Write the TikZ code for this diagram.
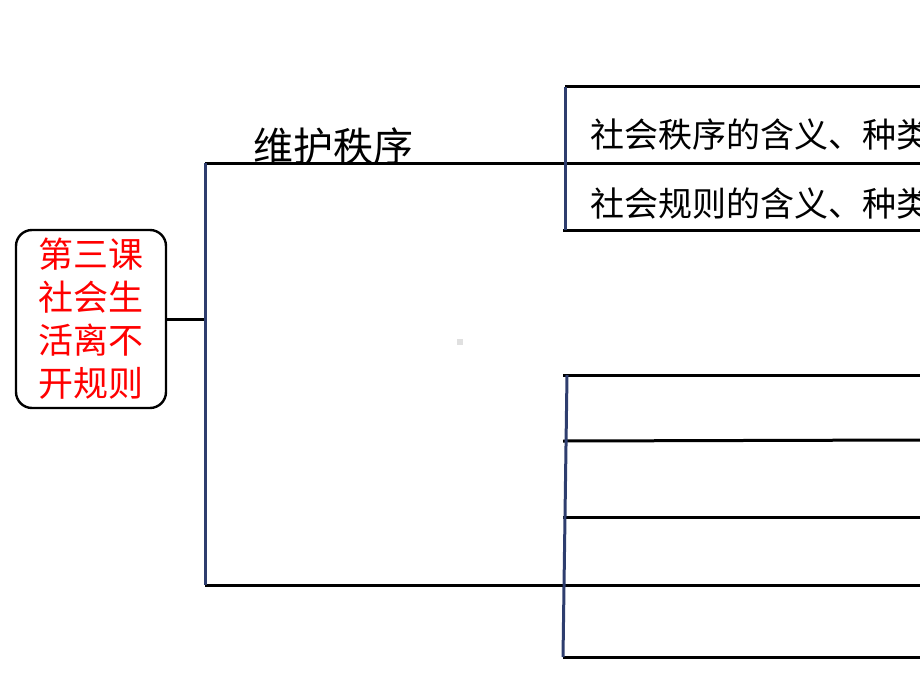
\documentclass[tikz,border=0pt]{standalone}
\usepackage{fontspec}
\newfontfamily\cjk{Noto Sans CJK SC}
\definecolor{navyline}{HTML}{2E3D6E}
\definecolor{dotgray}{HTML}{E0E0E0}
\begin{document}
\begin{tikzpicture}[x=1pt,y=-1pt,
  blk/.style={line width=3pt,black},
  nav/.style={line width=3pt,navyline},
  lesson/.style={draw,line width=2.4pt,rounded corners=16pt,minimum width=150pt,minimum height=178pt,
     inner sep=0pt,align=center,text=red,font=\cjk\fontsize{35}{43}\selectfont},
  branch/.style={font=\cjk\fontsize{40}{40}\selectfont,inner sep=0pt},
  item/.style={font=\cjk\fontsize{34}{36}\selectfont,inner sep=0pt,anchor=west}]
\useasboundingbox (0,0) rectangle (920,690);
\clip (0,0) rectangle (920,690);
% main box
\node[lesson] (L) at (91,319) {第三课\\社会生\\活离不\\开规则};
\coordinate (J) at (205,319);
\coordinate (T) at (205,163);
\coordinate (B) at (205,585);
\coordinate (TR) at (920,163);
\coordinate (BR) at (920,585);
\draw[blk] (L.east) -- (J);
% top branch label
\node[branch] (W) at (333,146) {维护秩序};
% top bracket
\coordinate (a1) at (565,87);  \coordinate (a1r) at (920,87);
\coordinate (a3) at (563,230); \coordinate (a3r) at (920,230);
\draw[blk] (T) -- (TR);
\draw[blk] (a1) -- (a1r);
\draw[blk] (a3) -- (a3r);
\draw[nav] (a1) -- (565,230);
\node[item] (s1) at (590,135) {社会秩序的含义、种类};
\node[item] (s2) at (590,204) {社会规则的含义、种类};
% bottom bracket
\coordinate (b1) at (563,375); \coordinate (b1r) at (920,375);
\coordinate (b2) at (563,441); \coordinate (b2r) at (920,440);
\coordinate (b3) at (563,517); \coordinate (b3r) at (920,517);
\coordinate (b5) at (563,657); \coordinate (b5r) at (920,657);
\draw[blk] (B) -- (BR);
\draw[blk] (b1) -- (b1r);
\draw[blk] (b2) -- (b2r);
\draw[blk] (b3) -- (b3r);
\draw[blk] (b5) -- (b5r);
\draw[nav] (567,375) -- (563,657);
% main vertical
\draw[nav] (T) -- (B);
% small gray mark
\fill[dotgray] (457,339) rectangle (463,345);
\end{tikzpicture}
\end{document}
